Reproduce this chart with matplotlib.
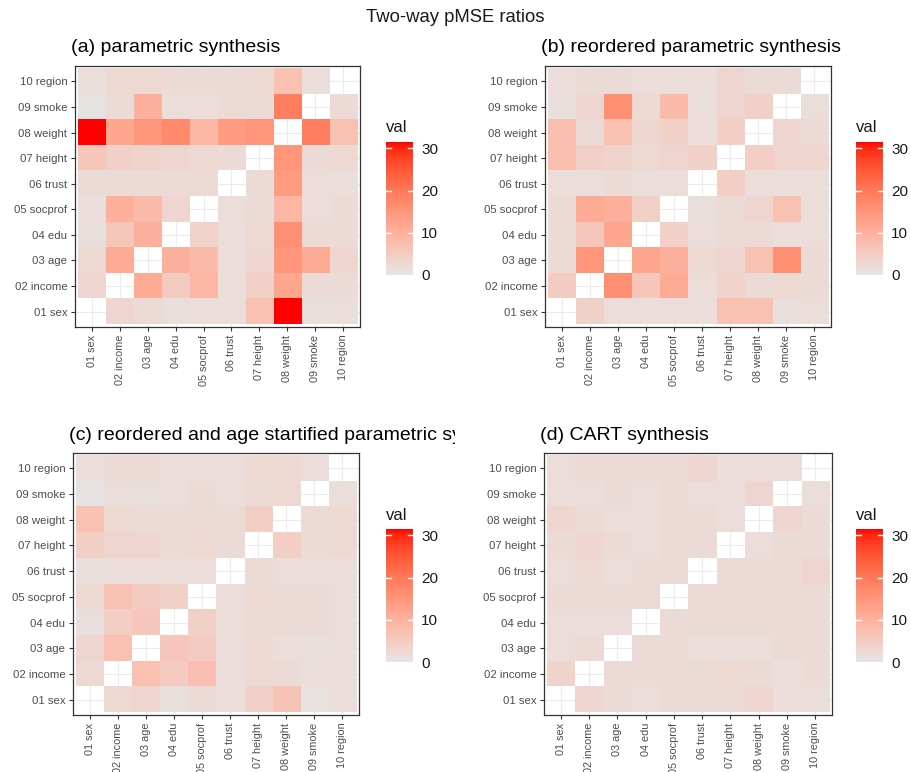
import numpy as np
import matplotlib
matplotlib.use("Agg")
import matplotlib.pyplot as plt
from matplotlib.colors import ListedColormap
from matplotlib.transforms import Bbox, TransformedBbox

plt.rcParams['font.family'] = ['Liberation Sans', 'DejaVu Sans']

labels = ["01 sex", "02 income", "03 age", "04 edu", "05 socprof",
          "06 trust", "07 height", "08 weight", "09 smoke", "10 region"]

titles = ["(a) parametric synthesis",
          "(b) reordered parametric synthesis",
          "(c) reordered and age startified parametric synthesis",
          "(d) CART synthesis"]

N = np.nan
# rows listed from top (10 region) to bottom (01 sex), columns 01..10
vals_a = [
    [1.5, 2.5, 2.5, 2, 2, 2, 2.5, 7, 1.5, N],
    [0.5, 2, 10, 1.5, 1.5, 2, 2, 19, N, 2],
    [31.5, 12, 15, 17, 9, 14, 15, N, 19, 7],
    [6, 4, 3.5, 3, 2.5, 2, N, 15, 2, 2.5],
    [2, 2, 2, 2, 2, N, 2, 14, 1.5, 1.5],
    [1.5, 10, 8, 3, N, 1.5, 2, 9, 1.5, 2],
    [1, 6, 10, N, 3.5, 1.5, 2.5, 16, 2, 2],
    [2.5, 11, N, 10, 8, 1.5, 3, 15, 11, 3],
    [3, N, 11, 5, 9, 1.5, 4, 12, 2, 2],
    [N, 3, 2, 1, 1.5, 1.5, 7, 31.5, 1, 1.5],
]
vals_b = [
    [1.5, 2, 2, 1.5, 1.5, 1.5, 3, 2, 2, N],
    [1, 3, 16, 2.5, 8, 1.5, 3, 4, N, 1.5],
    [7.5, 2, 7, 3, 4, 1.5, 4.5, N, 3, 2],
    [7.5, 4, 3.5, 2.5, 3, 4, N, 4.5, 3, 3],
    [1.5, 1.5, 2, 1.5, 1.5, N, 4.5, 1.5, 1.5, 1.5],
    [2, 11, 10, 4, N, 1, 2, 3, 7, 1.5],
    [2, 6, 12, N, 4, 1.5, 2, 2, 1.5, 1.5],
    [2, 15, N, 12, 10, 2.5, 3, 7, 16, 2],
    [5, N, 16, 6, 11, 1.5, 3.5, 2, 2.5, 2],
    [N, 4, 1.5, 1.5, 1.5, 1.5, 7, 7, 1, 1.5],
]
vals_c = [
    [1.5, 2, 2, 1.5, 1.5, 1.5, 2.5, 2.5, 1.5, N],
    [0.5, 1.5, 1, 1.5, 2, 1.5, 2, 2.5, N, 1.5],
    [7, 2.5, 2, 2, 2, 2, 4.5, N, 2, 2.5],
    [4.5, 3, 3, 2, 2.5, 2, N, 4.5, 2, 2.5],
    [1, 1.5, 1.5, 1.5, 1.5, N, 2, 1.5, 1.5, 1.5],
    [2.5, 7, 5, 4, N, 1.5, 2.5, 2, 2, 1.5],
    [1, 4.5, 6, N, 4, 1.5, 2, 2, 2, 1.5],
    [3, 7, N, 6, 5, 1.5, 2.5, 1.5, 1, 1.5],
    [2.5, N, 7, 5, 7.5, 1.5, 2.5, 2, 1.5, 1.5],
    [N, 2.5, 3, 1, 2, 1.5, 4, 6.5, 0.8, 1.5],
]
vals_d = [
    [1.5, 2, 2, 2, 2, 3, 1.5, 1.5, 1.5, N],
    [1.5, 1.5, 2, 1.5, 2, 1.5, 1.5, 3, N, 1.5],
    [3, 2, 1.5, 1.5, 2, 2, 1.5, N, 3, 2],
    [2, 3, 2, 1.5, 2, 2, N, 1.5, 2, 2],
    [1.5, 2.5, 1.5, 2, 2, N, 2, 2, 2, 3],
    [2, 2, 2, 2, N, 2, 2, 2, 2, 2],
    [1.5, 1.5, 1.5, N, 2, 2, 2, 2, 2, 2],
    [1.5, 2, N, 2, 2, 1.5, 1.5, 1.5, 2, 2],
    [3.5, N, 2, 2, 2, 2, 2.5, 2, 1.5, 2],
    [N, 3, 2, 1.5, 2, 2, 2, 3, 1.5, 1.5],
]
all_vals = [vals_a, vals_b, vals_c, vals_d]


# ggplot-like gradient grey90 -> red, interpolated in Lab space
def srgb_to_lab(rgb):
    c = np.array(rgb, float)
    c = np.where(c <= 0.04045, c / 12.92, ((c + 0.055) / 1.055) ** 2.4)
    M = np.array([[0.4124, 0.3576, 0.1805],
                  [0.2126, 0.7152, 0.0722],
                  [0.0193, 0.1192, 0.9505]])
    xyz = M @ c / np.array([0.95047, 1.0, 1.08883])
    f = np.where(xyz > 0.008856, np.cbrt(xyz), 7.787 * xyz + 16 / 116)
    return np.array([116 * f[1] - 16, 500 * (f[0] - f[1]), 200 * (f[1] - f[2])])


def lab_to_srgb(lab):
    L, a, b = lab
    fy = (L + 16) / 116
    fx = fy + a / 500
    fz = fy - b / 200
    f = np.array([fx, fy, fz])
    xyz = np.where(f ** 3 > 0.008856, f ** 3, (f - 16 / 116) / 7.787)
    xyz = xyz * np.array([0.95047, 1.0, 1.08883])
    Minv = np.array([[3.2406, -1.5372, -0.4986],
                     [-0.9689, 1.8758, 0.0415],
                     [0.0557, -0.2040, 1.0570]])
    c = Minv @ xyz
    c = np.where(c <= 0.0031308, 12.92 * c, 1.055 * np.clip(c, 0, None) ** (1 / 2.4) - 0.055)
    return np.clip(c, 0, 1)


lo = srgb_to_lab([0.898, 0.898, 0.898])
hi = srgb_to_lab([1.0, 0.0, 0.0])
cols = [lab_to_srgb(lo + (hi - lo) * t) for t in np.linspace(0, 1, 256)]
cmap = ListedColormap(cols)
cmap.set_bad((1, 1, 1, 0))
vmin, vmax = 0, 31.5

fig = plt.figure(figsize=(9.11, 7.72), dpi=100)
W, H = 911, 772


def box(x0, y0, x1, y1):
    return [x0 / W, 1 - y1 / H, (x1 - x0) / W, (y1 - y0) / H]


panels = [(75, 66, 360, 327), (545, 66, 831, 327),
          (73, 453, 359, 715), (544, 453, 832, 715)]
cbars = [(386, 142, 413, 275), (856, 142, 883, 275),
         (386, 529, 413, 662), (856, 529, 883, 662)]
clip_right = [455, 911, 455, 911]

fig.text(0.5, 1 - 18 / H, "Two-way pMSE ratios", ha="center", va="center",
         fontsize=13.3, color="#1a1a1a")

txtcol = "#4d4d4d"
for k in range(4):
    ax = fig.add_axes(box(*panels[k]))
    data = np.array(all_vals[k], float)[::-1]  # row 0 = 01 sex
    ax.set_axisbelow(True)
    ax.grid(True, color="#ebebeb", linewidth=0.8)
    im = ax.imshow(data, cmap=cmap, vmin=vmin, vmax=vmax, origin="lower",
                   extent=(-0.5, 9.5, -0.5, 9.5), aspect="auto",
                   interpolation="nearest", zorder=2)
    ax.set_xlim(-0.6, 9.6)
    ax.set_ylim(-0.6, 9.6)
    ax.set_xticks(range(10))
    ax.set_yticks(range(10))
    ax.set_xticklabels(labels, rotation=90, fontsize=7.8, color=txtcol)
    ax.set_yticklabels(labels, fontsize=8.2, color=txtcol)
    ax.tick_params(length=3, width=0.8, color="#333333", pad=2.5)
    for s in ax.spines.values():
        s.set_color("#333333")
        s.set_linewidth(0.9)
    x0, y0, x1, y1 = panels[k]
    t = fig.text((x0 - 4) / W, 1 - 47 / H, titles[k], ha="left", va="center",
                 fontsize=14, color="black")
    clipbox = TransformedBbox(Bbox([[0, 0], [clip_right[k] / W, 1]]), fig.transFigure)
    t.set_clip_box(clipbox)
    t.set_clip_on(True)
    if k >= 2:
        t.set_y(1 - 436 / H)

    cx0, cy0, cx1, cy1 = cbars[k]
    cax = fig.add_axes(box(*cbars[k]))
    cb = fig.colorbar(im, cax=cax, ticks=[0, 10, 20, 30])
    cb.outline.set_visible(False)
    cax.tick_params(length=0, labelsize=11, labelcolor="#1a1a1a", pad=6)
    for v in [10, 20, 30]:
        cax.plot([0, 0.18], [v, v], color="white", lw=1, transform=cax.get_yaxis_transform())
        cax.plot([0.82, 1], [v, v], color="white", lw=1, transform=cax.get_yaxis_transform())
    fig.text(cx0 / W, 1 - (cy0 - 14) / H, "val", ha="left", va="center",
             fontsize=12, color="#1a1a1a")

fig.savefig("out.png", dpi=100)
